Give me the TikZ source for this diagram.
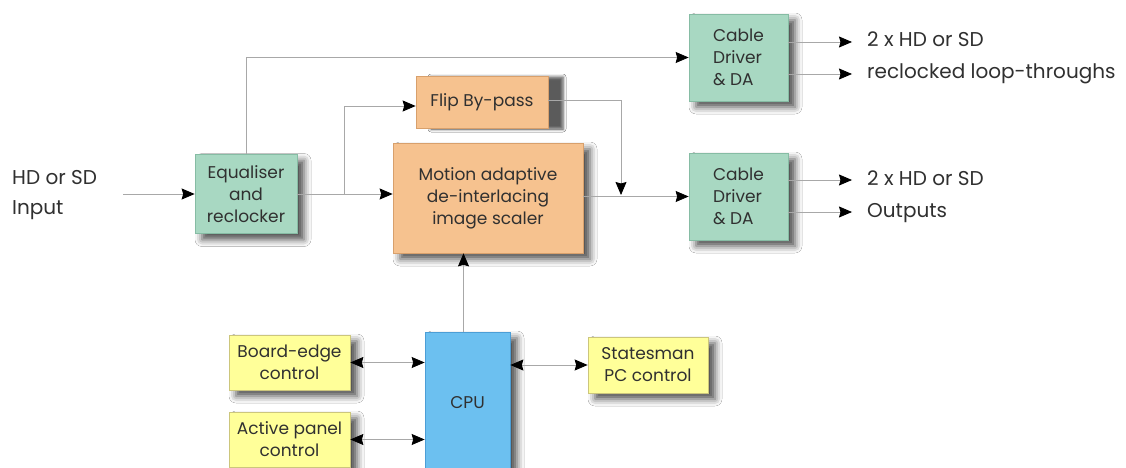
\documentclass[tikz,border=0pt]{standalone}
\usepackage{fontspec}
\setmainfont{Poppins}
\usetikzlibrary{arrows.meta,positioning,shadows.blur}
\definecolor{cdgreen}{HTML}{A8D8C2}
\definecolor{cdgreenline}{HTML}{86BCA4}
\definecolor{scorange}{HTML}{F6C28F}
\definecolor{scorangeline}{HTML}{D8A06C}
\definecolor{ctlyellow}{HTML}{FFFF99}
\definecolor{ctlyellowline}{HTML}{CCC67C}
\definecolor{cpublue}{HTML}{6CC0F0}
\definecolor{cpublueline}{HTML}{4C9ED6}
\definecolor{txtgray}{HTML}{303030}
\definecolor{wiregray}{HTML}{A8A8A8}
\begin{document}
\begin{tikzpicture}[x=1pt, y=-1pt,
  font=\fontsize{17}{22}\selectfont, text=txtgray,
  blk/.style={draw, line width=.7pt, inner sep=0pt, align=center,
    blur shadow={shadow xshift=7pt, shadow yshift=-6pt, shadow blur radius=7pt, shadow opacity=70}},
  grn/.style={blk, fill=cdgreen, draw=cdgreenline},
  org/.style={blk, fill=scorange, draw=scorangeline},
  ylw/.style={blk, fill=ctlyellow, draw=ctlyellowline},
  blu/.style={blk, fill=cpublue, draw=cpublueline},
  lbl/.style={inner sep=0pt, font=\fontsize{20}{30}\selectfont},
  outlbl/.style={lbl, anchor=west, inner xsep=15pt, text height=14pt, text depth=4pt},
  wire/.style={draw=wiregray, line width=.8pt},
  arr/.style={wire, -{Stealth[length=13pt,width=11pt,inset=1.5pt,color=black]}},
  dbl/.style={wire, {Stealth[length=13pt,width=11pt,inset=1.5pt,color=black]}-{Stealth[length=13pt,width=11pt,inset=1.5pt,color=black]}}]
\fill[white] (0,0) rectangle (1126,468);
\useasboundingbox (0,0) rectangle (1126,468);

% video path
\node[lbl, anchor=west, align=left] (inp) at (12,195) {HD or SD\\Input};
\node[grn, minimum width=102, minimum height=79] (eq) at (246,194) {Equaliser\\and\\reclocker};
\node[org, minimum width=132, minimum height=52,
  blur shadow={shadow xshift=15pt, shadow yshift=-1pt, shadow blur radius=3pt, shadow opacity=40}]
  (flip) at (482,102) {Flip By-pass};
\node[org, minimum width=190, minimum height=110] (scaler) at (488,198) {Motion adaptive\\de-interlacing\\image scaler};
\node[grn, align=left, minimum width=99, minimum height=87] (cdtop) at (738.5,57.5) {Cable\\Driver\\\& DA};
\node[grn, align=left, minimum width=99, minimum height=87] (cdout) at (738.5,196.5) {Cable\\Driver\\\& DA};

\node[outlbl] (loop1) at (852,42) {2 x HD or SD};
\node[outlbl] (loop2) at (852,74) {reclocked loop-throughs};
\node[outlbl] (out1) at (852,180) {2 x HD or SD};
\node[outlbl] (out2) at (852,212) {Outputs};

% control
\node[blu, minimum width=85, minimum height=142] (cpu) at (467.5,403) {CPU};
\node[ylw, minimum width=121, minimum height=55] (board) at (289.5,362.5) {Board-edge\\control};
\node[ylw, minimum width=121, minimum height=55] (panel) at (289.5,439.5) {Active panel\\control};
\node[ylw, minimum width=120, minimum height=56] (pcctl) at (648,365) {Statesman\\PC control};

\coordinate (src) at (123,194);
\coordinate (split) at (344,194);
\coordinate (merge) at (621,196);

\draw[arr] (src) -- (eq);
\draw[arr] (eq.north) |- (cdtop);
\draw[arr] (eq.east) -- (eq.east -| scaler.west);
\draw[arr] (split) |- ([yshift=-4pt]flip.west);
\draw[arr] ([yshift=2pt]flip.east) -| ([yshift=1pt]merge);
\draw[arr] (scaler.east |- cdout) -- (cdout);
\foreach \n in {loop1,loop2}
  \draw[arr] (cdtop.east |- \n) -- (\n);
\foreach \n in {out1,out2}
  \draw[arr] (cdout.east |- \n) -- (\n);

\draw[arr] ([xshift=-4pt]cpu.north) -- ([xshift=-4pt]cpu.north |- scaler.south);
\draw[dbl] (board.east) -- (board.east -| cpu.west);
\draw[dbl] (panel.east) -- (panel.east -| cpu.west);
\draw[dbl] (cpu.east |- pcctl) -- (pcctl.west);
\end{tikzpicture}
\end{document}
